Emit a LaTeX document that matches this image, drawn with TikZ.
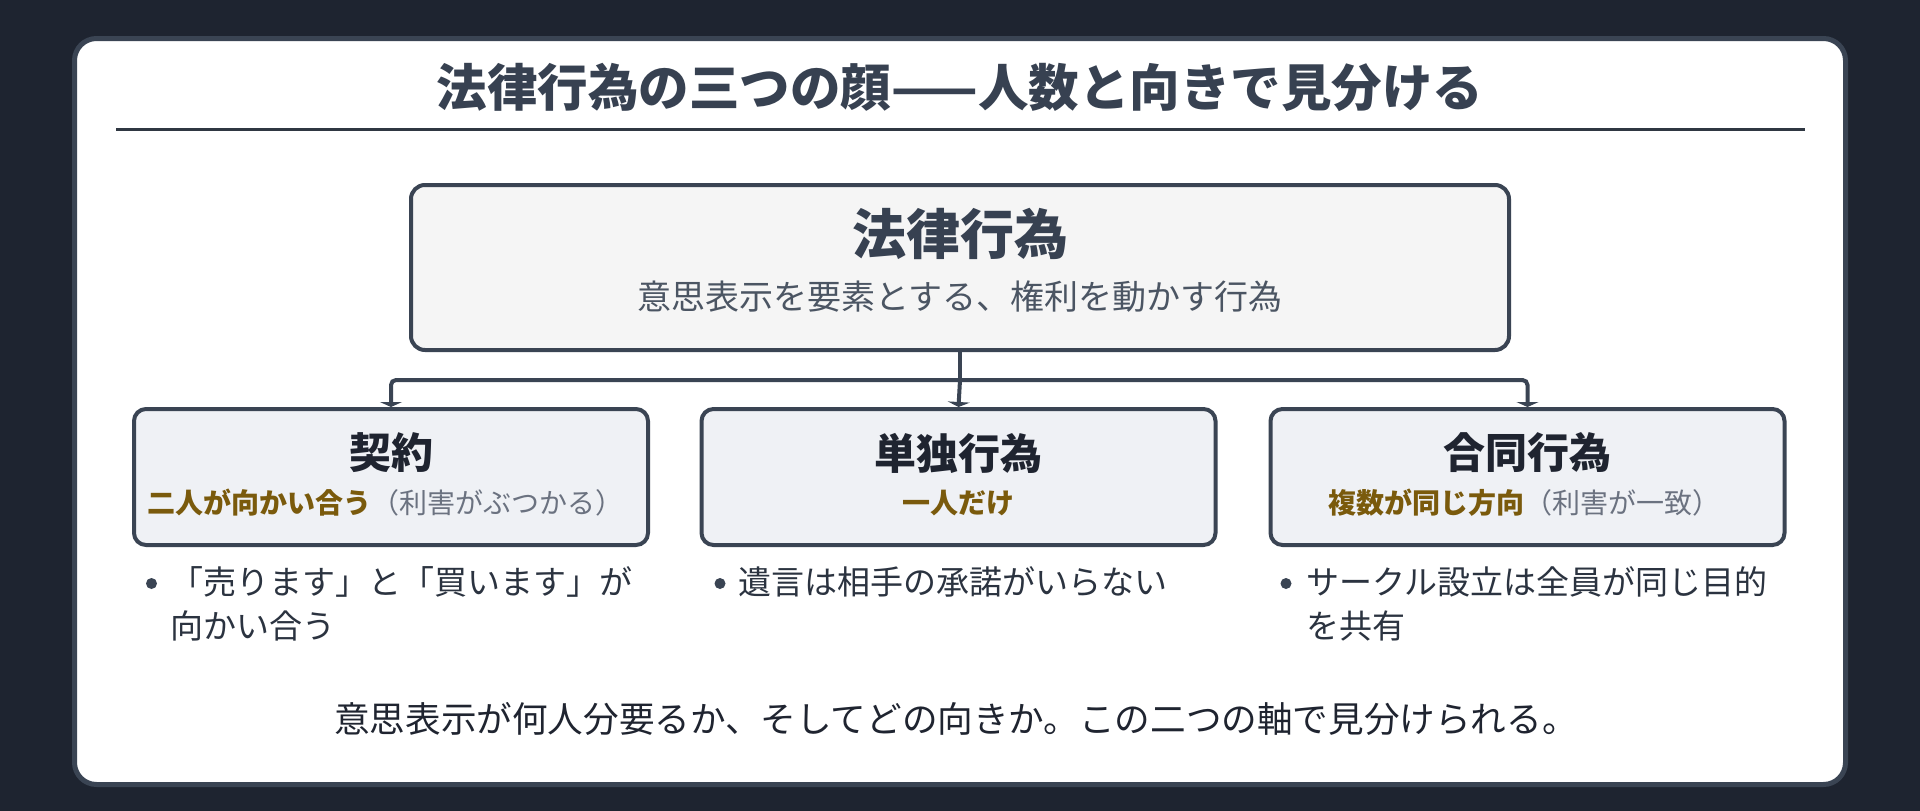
\documentclass[tikz,border=0pt]{standalone}
\usepackage{fontspec}
\setmainfont{Noto Sans CJK JP}
\usetikzlibrary{arrows.meta}
\definecolor{bgdark}{HTML}{1E2430}
\definecolor{panelline}{HTML}{3A4453}
\definecolor{boxline}{HTML}{3A4453}
\definecolor{mainfill}{HTML}{F5F5F5}
\definecolor{childfill}{HTML}{EFF1F5}
\definecolor{titlecol}{HTML}{374151}
\definecolor{childtitle}{HTML}{1F2430}
\definecolor{subcol}{HTML}{4B5563}
\definecolor{goldcol}{HTML}{7A5A0C}
\definecolor{parencol}{HTML}{6B7280}
\definecolor{bodycol}{HTML}{2B3340}
\definecolor{dotcol}{HTML}{3A4453}
\definecolor{rulecol}{HTML}{2F3742}
\tikzset{
  mainbox/.style={draw=boxline, line width=4pt, fill=mainfill, rounded corners=14pt,
    minimum width=1098pt, minimum height=165pt, inner sep=0pt},
  childbox/.style={draw=boxline, line width=4pt, fill=childfill, rounded corners=12pt,
    minimum width=514pt, minimum height=136pt, inner sep=0pt},
  conn/.style={draw=boxline, line width=4pt, rounded corners=5pt},
  tip/.style={-{Triangle[width=22pt,length=5pt]}},
  childhead/.style={font=\fontsize{42}{50}\selectfont\bfseries, text=childtitle, inner sep=0pt},
  childsub/.style={font=\fontsize{28}{34}\selectfont, inner sep=0pt},
  bullettext/.style={font=\fontsize{33}{44}\selectfont, text=bodycol, inner sep=0pt, align=left, anchor=north west},
  dot/.style={circle, fill=dotcol, minimum size=11pt, inner sep=0pt},
}
\begin{document}
\begin{tikzpicture}[x=1pt,y=-1pt]
\useasboundingbox[fill=bgdark] (0,0) rectangle (1920,811);
% panel
\draw[draw=panelline, line width=5pt, fill=white, rounded corners=22pt] (74.5,38.5) rectangle (1845.5,784.5);
% title
\node[font=\fontsize{50.5}{60}\selectfont\bfseries, text=titlecol, inner sep=0pt] (title) at (960,87) {法律行為の三つの顔——人数と向きで見分ける};
\draw[draw=rulecol, line width=3pt] (116,129) coordinate (rl) -- (1805,129) coordinate (rr);
% main box
\node[mainbox] (main) at (960,267.5) {};
\node[font=\fontsize{54}{60}\selectfont\bfseries, text=titlecol, inner sep=0pt] (maint) at (960,234) {法律行為};
\node[font=\fontsize{34}{40}\selectfont, text=subcol, inner sep=0pt] (mains) at (960,297) {意思表示を要素とする、権利を動かす行為};
% child boxes
\node[childbox] (left) at (391,477) {};
\node[childbox] (mid) at (958.5,477) {};
\node[childbox] (right) at (1527.5,477) {};
\node[childhead] (lt) at (391,453) {契約};
\node[childhead] (mt) at (958.5,453) {単独行為};
\node[childhead] (rt) at (1527.5,453) {合同行為};
\node[childsub] (ls) at (385,503) {\textcolor{goldcol}{\bfseries 二人が向かい合う}\textcolor{parencol}{（利害がぶつかる）}};
\node[childsub] (ms) at (958.5,503) {\textcolor{goldcol}{\bfseries 一人だけ}};
\node[childsub] (rs) at (1524,503) {\textcolor{goldcol}{\bfseries 複数が同じ方向}\textcolor{parencol}{（利害が一致）}};
% connectors
\coordinate (bus) at (960,380);
\draw[conn] (main.south) -- (bus);
\draw[conn, tip] (bus) -| (left.north);
\draw[conn, tip] (bus) -- (mid.north);
\draw[conn, tip] (bus) -| (right.north);
% bullets
\node[dot] (d1) at (151.5,583.5) {};
\node[bullettext] (b1) at (170,566) {「売ります」と「買います」が\\向かい合う};
\node[dot] (d2) at (720,583.5) {};
\node[bullettext] (b2) at (738,566) {遺言は相手の承諾がいらない};
\node[dot] (d3) at (1286,583.5) {};
\node[bullettext] (b3) at (1306,566) {サークル設立は全員が同じ目的\\を共有};
% footer
\node[font=\fontsize{35.6}{42}\selectfont, text=childtitle, inner sep=0pt] (foot) at (956,719) {意思表示が何人分要るか、そしてどの向きか。この二つの軸で見分けられる。};
\end{tikzpicture}
\end{document}
